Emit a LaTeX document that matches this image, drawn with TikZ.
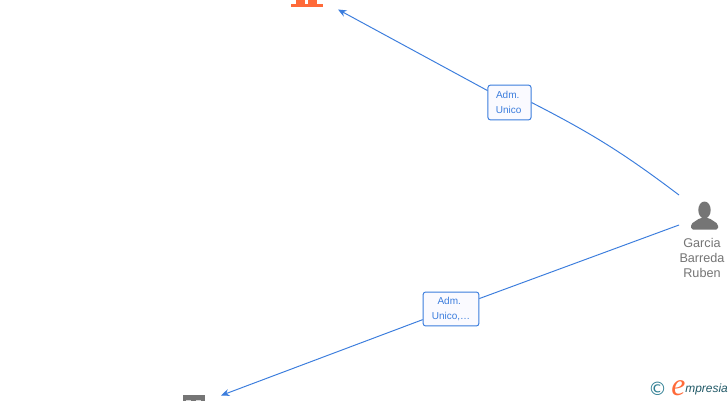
\documentclass[tikz,border=0pt]{standalone}
\usepackage{fontspec}
\setmainfont{Liberation Sans}
\newfontfamily\logofont{DejaVu Sans}
\newfontfamily\logoserif{Liberation Serif}
\usetikzlibrary{arrows.meta,positioning}
\definecolor{linkblue}{HTML}{3B7DDD}
\definecolor{iconorange}{HTML}{FF6A39}
\definecolor{icongray}{HTML}{757575}
\definecolor{logoteal}{HTML}{2F7F93}
\tikzset{
  every picture/.style={x=0.02cm,y=-0.02cm},
  rolebox/.style={draw=linkblue, fill=blue!2, rounded corners=1.4pt, line width=0.55pt,
    text=linkblue, font=\fontsize{5.7}{8.4}\selectfont, align=center, inner sep=0pt},
  link/.style={draw=linkblue, line width=0.55pt},
  linkarrow/.style={link, -{Stealth[length=4.8pt,width=4pt]}},
}

\begin{document}
\begin{tikzpicture}
\useasboundingbox (0,0) rectangle (728,400);
\clip (0,0) rectangle (728,400);
\fill[white] (0,0) rectangle (728,400);
% Free ends of the connectors
\coordinate (topEnd) at (338,9.5);
\coordinate (bottomEnd) at (221,395.5);
\coordinate (personUp) at (679,195);
\coordinate (personDown) at (679,225);
% Role boxes
\node[rolebox, minimum width=24.5pt, minimum height=19.8pt] (roleTop) at (509.5,102.5) {\hspace*{-2pt}Adm.\\Unico\hspace*{1pt}};
\node[rolebox, minimum width=31.7pt, minimum height=19.3pt] (roleBottom) at (451,309) {\hspace*{-2pt}Adm.\\Unico,\dots};
% Connectors
\draw[link] (personUp) to[bend right=5] (roleTop.east);
\draw[linkarrow] (roleTop) -- (topEnd);
\draw[link] (personDown) -- (roleBottom);
\draw[linkarrow] (roleBottom) -- (bottomEnd);
% Person
\fill[icongray] (704.5,210) ellipse (6.2 and 8.5);
\fill[icongray, rounded corners=1pt] (691,229.5) -- (691,224) -- (700,218) -- (709,218) -- (718,224) -- (718,229.5) -- cycle;
\node[text=icongray, font=\fontsize{7.2}{8.5}\selectfont, align=center, inner sep=0pt] (personName) at (702,258) {Garcia\\Barreda\\Ruben};
% Orange company, cut by the top edge
\fill[iconorange] (291,3.5) rectangle (323,7);
\foreach \x in {296,308}{
  \fill[iconorange] (\x,-1) rectangle (\x+9,4);
}
% Gray company, cut by the bottom edge
\fill[icongray] (182.5,395) rectangle (205,401);
\foreach \x in {186,196}{
  \fill[white!70!icongray] (\x,399.5) rectangle (\x+5,401);
}
% Logo
\node[text=logoteal, font=\logofont\fontsize{10.5}{10.5}\selectfont, inner sep=0pt] (logoMark) at (657.7,389) {©};
\node[text=iconorange, font=\logoserif\itshape\fontsize{18}{18}\selectfont, inner sep=0pt] (logoE) at (678.5,388.5) {e};
\node[text=logoteal!70!black, font=\itshape\fontsize{6.8}{8}\selectfont, inner sep=0pt, anchor=west] (logoText) at (685,389) {mpresia};
\end{tikzpicture}
\end{document}
